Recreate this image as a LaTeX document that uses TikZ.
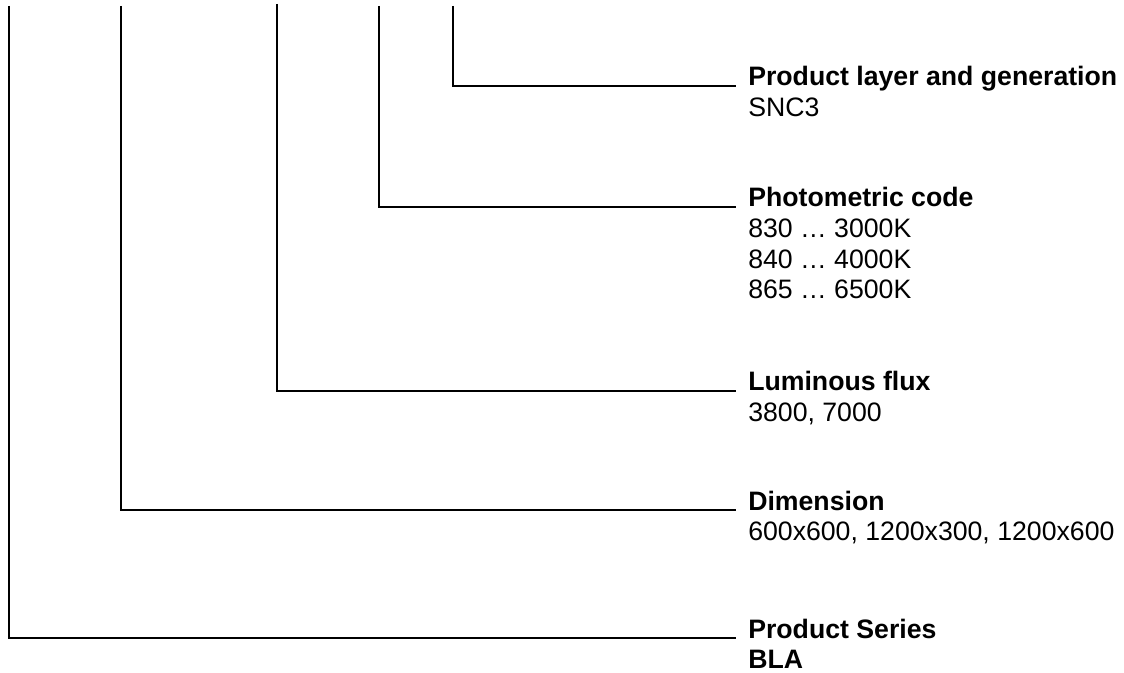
\documentclass[tikz,border=0pt]{standalone}
\usepackage{fontspec}
\setmainfont{Liberation Sans}
\usetikzlibrary{positioning}

\begin{document}
\begin{tikzpicture}[
    x=0.75pt, y=-0.75pt,
    lead/.style={draw=black, line width=1.5pt},
    heading/.style={anchor=base west, inner xsep=9pt, inner ysep=0pt, font=\fontsize{20}{23}\selectfont\bfseries},
    entry/.style={anchor=base west, inner xsep=9pt, inner ysep=0pt, align=left, font=\fontsize{20}{23}\selectfont}
]
    \useasboundingbox (0,0) rectangle (1124,673);

    % top ends of the code leads
    \coordinate (c1) at (9,6);
    \coordinate (c2) at (121,6);
    \coordinate (c3) at (277,4);
    \coordinate (c4) at (379,6);
    \coordinate (c5) at (453,6);

    \node[heading] (layer) at (736,86) {Product layer and generation};
    \node[entry, below=23pt of layer.base west, anchor=base west] (layerv) {SNC3};

    \node[heading, below=90.75pt of layer.base west, anchor=base west] (photo) {Photometric code};
    \node[entry, below=8.7pt of photo.base west, anchor=north west] (photov) {830 … 3000K\\840 … 4000K\\865 … 6500K};

    \node[heading, below=138pt of photo.base west, anchor=base west] (flux) {Luminous flux};
    \node[entry, below=23pt of flux.base west, anchor=base west] (fluxv) {3800, 7000};

    \node[heading, below=89.25pt of flux.base west, anchor=base west] (dim) {Dimension};
    \node[entry, below=23pt of dim.base west, anchor=base west] (dimv) {600x600, 1200x300, 1200x600};

    \node[heading, below=96pt of dim.base west, anchor=base west] (series) {Product Series};
    \node[heading, below=23pt of series.base west, anchor=base west] (seriesv) {BLA};

    \draw[lead] (c5) |- (layer.base west);
    \draw[lead] (c4) |- (photo.base west);
    \draw[lead] (c3) |- (flux.base west);
    \draw[lead] (c2) |- (dim.base west);
    \draw[lead] (c1) |- (series.base west);
\end{tikzpicture}
\end{document}
